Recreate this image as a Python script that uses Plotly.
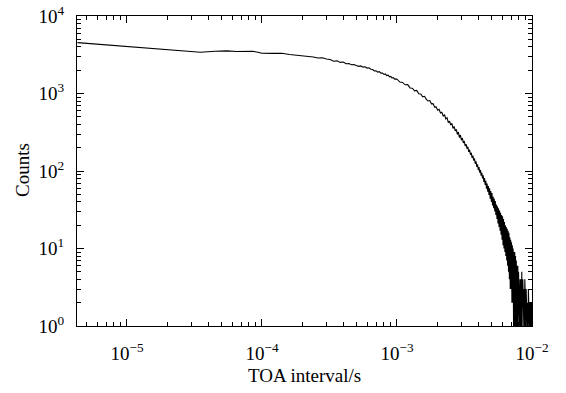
import plotly.graph_objects as go

# TOA interval (microseconds) and histogram counts
x_us_head = [4.3, 35, 45, 55, 65, 75, 85, 95]
counts_head = [4530, 3400, 3510, 3550, 3480, 3470, 3510, 3380]

x_us_mid = [100, 120, 140, 160, 180, 200, 220, 240, 260, 280,
            300, 320, 340, 360, 380, 400, 420, 440, 460, 480,
            500, 520, 540, 560, 580, 600, 620, 640, 660, 680,
            700, 720, 740, 760, 780, 800, 820, 840, 860, 880,
            900, 920, 940, 960, 980]
counts_mid = [3310, 3290, 3300, 3180, 3120, 3060, 2990, 2960, 2870, 2890,
              2790, 2740, 2610, 2640, 2520, 2545, 2420, 2440, 2350, 2370,
              2290, 2240, 2270, 2190, 2215, 2130, 2150, 2060, 2040, 1950,
              1965, 1890, 1910, 1830, 1840, 1760, 1790, 1700, 1720, 1640,
              1660, 1585, 1605, 1530, 1545]

x_us_tail = [1000, 1050, 1100, 1150, 1200, 1250, 1300, 1350, 1400, 1450,
             1500, 1550, 1600, 1650, 1700, 1750, 1800, 1850, 1900, 1950,
             2000, 2050, 2100, 2150, 2200, 2250, 2300, 2350, 2400, 2450,
             2500, 2550, 2600, 2650, 2700, 2750, 2800, 2850, 2900, 2950,
             3000, 3050, 3100, 3150, 3200, 3250, 3300, 3350, 3400, 3450,
             3500, 3550, 3600, 3650, 3700, 3750, 3800, 3850, 3900, 3950,
             4000, 4050, 4100, 4150, 4200, 4250, 4300, 4350, 4400, 4450,
             4500, 4550, 4600, 4650, 4700, 4750, 4800, 4850, 4900, 4950,
             5000, 5050, 5100, 5150, 5200, 5250, 5300, 5350, 5400, 5450,
             5500, 5550, 5600, 5650, 5700, 5750, 5800, 5850, 5900, 5950,
             6000, 6050, 6100, 6150, 6200, 6250, 6300, 6350, 6400, 6450,
             6500, 6550, 6600, 6650, 6700, 6750, 6800, 6850, 6900, 6950,
             7000, 7050, 7100, 7150, 7200, 7250, 7300, 7350, 7400, 7450,
             7500, 7550, 7600, 7650, 7700, 7750, 7800, 7850, 7900, 7950,
             8000, 8050, 8100, 8150, 8200, 8250, 8300, 8350, 8400, 8450,
             8500, 8550, 8600, 8650, 8700, 8750, 8800, 8850, 8900, 8950,
             9000, 9050, 9100, 9150, 9200, 9250, 9300, 9350, 9400, 9450,
             9500, 9550, 9600, 9650, 9700, 9750, 9800, 9850, 9900, 9950]
counts_tail = [1530, 1405, 1390, 1295, 1300, 1180, 1170, 1080, 1095, 990,
               985, 905, 920, 840, 800, 810, 735, 740, 668, 672,
               610, 625, 560, 571, 512, 530, 470, 487, 421, 440,
               392, 412, 355, 376, 330, 345, 296, 318, 270, 291,
               250, 266, 230, 244, 210, 222, 194, 205, 177, 188,
               162, 172, 148, 158, 136, 145, 124, 133, 113, 122,
               103, 112, 95, 103, 87, 95, 80, 88, 72, 81,
               66, 75, 59, 69, 54, 64, 49, 60, 44, 55,
               40, 52, 36, 47, 33, 44, 30, 41, 27, 37,
               24, 35, 21, 33, 19, 31, 17, 29, 15, 27,
               13, 26, 11, 24, 10, 22, 9, 20, 8, 19,
               7, 18, 6, 17, 5, 16, 4, 14, 3, 13,
               3, 12, 2, 11, 2, 10, 1, 9, 1, 9,
               1, 8, 1, 7, 1, 6, 1, 6, 1, 5,
               1, 5, 1, 4, 2, 1, 4, 1, 5, 1,
               3, 4, 1, 3, 1, 3, 1, 4, 1, 2,
               1, 3, 1, 3, 1, 2, 1, 1, 3, 1,
               2, 1, 1, 2, 1, 1, 2, 1, 1, 2]

x_tick_vals = [1e-5, 1e-4, 1e-3, 1e-2]
x_tick_text = ["10<sup>\u22125</sup>", "10<sup>\u22124</sup>", "10<sup>\u22123</sup>", "10<sup>\u22122</sup>"]
y_tick_vals = [1, 10, 100, 1000, 10000]
y_tick_text = ["10<sup>0</sup>", "10<sup>1</sup>", "10<sup>2</sup>", "10<sup>3</sup>", "10<sup>4</sup>"]
x_title = "TOA interval/s"
y_title = "Counts"

x_seconds = [v * 1e-6 for v in x_us_head + x_us_mid + x_us_tail]
counts = counts_head + counts_mid + counts_tail

x_minor = [m * 10.0 ** e for e in range(-6, -2) for m in range(2, 10)]
y_minor = [m * 10.0 ** e for e in range(0, 4) for m in range(2, 10)]

FONT = "Liberation Serif, Times New Roman, serif"

fig = go.Figure()
fig.add_trace(go.Scatter(x=x_seconds, y=counts, mode="lines",
                         line=dict(color="black", width=1.1),
                         showlegend=False, hoverinfo="skip"))

axis_common = dict(
    type="log", showgrid=False, zeroline=False, automargin=False,
    showline=True, linecolor="black", linewidth=1, mirror="ticks",
    ticks="inside", ticklen=7, tickwidth=1, tickcolor="black",
    ticklabeloverflow="allow",
    tickfont=dict(family=FONT, size=19, color="black"),
)

fig.update_xaxes(**axis_common, range=[-5.37, -2],
                 tickmode="array", tickvals=x_tick_vals, ticktext=x_tick_text,
                 ticklabelstandoff=10,
                 minor=dict(ticks="inside", ticklen=4, tickcolor="black",
                            tickmode="array", tickvals=x_minor, showgrid=False))
fig.update_yaxes(**axis_common, range=[0, 4],
                 tickmode="array", tickvals=y_tick_vals, ticktext=y_tick_text,
                 ticklabelstandoff=8,
                 minor=dict(ticks="inside", ticklen=4, tickcolor="black",
                            tickmode="array", tickvals=y_minor, showgrid=False))

fig.add_annotation(text=x_title, xref="paper", yref="paper", x=0.5, y=-0.16,
                   xanchor="center", yanchor="middle", showarrow=False,
                   font=dict(family=FONT, size=19, color="black"))
fig.add_annotation(text=y_title, xref="paper", yref="paper", x=-0.121, y=0.503,
                   xanchor="center", yanchor="middle", showarrow=False, textangle=-90,
                   font=dict(family=FONT, size=19, color="black"))

fig.update_layout(width=566, height=393,
                  margin=dict(l=77, r=34, t=16, b=67),
                  paper_bgcolor="white", plot_bgcolor="white")

# remove the page's default 8px body margin so the figure fills the window
fig.write_html("out.html", config={"displayModeBar": False},
               post_script="document.body.style.margin='0px';")
